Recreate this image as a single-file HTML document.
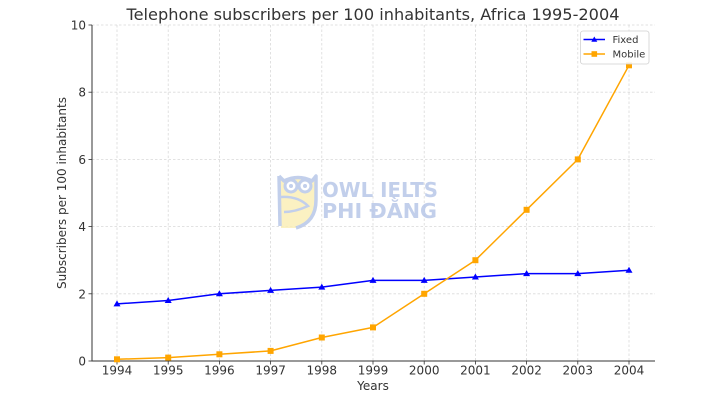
<!DOCTYPE html>
<html><head><meta charset="utf-8"><style>
html,body{margin:0;padding:0;background:#fff;}
svg{display:block;font-family:"DejaVu Sans","Liberation Sans",sans-serif;}
</style></head><body>
<svg width="711" height="400" viewBox="0 0 711 400" xmlns="http://www.w3.org/2000/svg">
<rect width="711" height="400" fill="#fff"/>
<!-- grid -->
<g stroke="#d9d9d9" stroke-width="0.8" stroke-dasharray="2.5,2">
<line x1="117" y1="25" x2="117" y2="361"/>
<line x1="168.2" y1="25" x2="168.2" y2="361"/>
<line x1="219.4" y1="25" x2="219.4" y2="361"/>
<line x1="270.6" y1="25" x2="270.6" y2="361"/>
<line x1="321.8" y1="25" x2="321.8" y2="361"/>
<line x1="373" y1="25" x2="373" y2="361"/>
<line x1="424.2" y1="25" x2="424.2" y2="361"/>
<line x1="475.4" y1="25" x2="475.4" y2="361"/>
<line x1="526.6" y1="25" x2="526.6" y2="361"/>
<line x1="577.8" y1="25" x2="577.8" y2="361"/>
<line x1="629" y1="25" x2="629" y2="361"/>
<line x1="92" y1="293.8" x2="655" y2="293.8"/>
<line x1="92" y1="226.6" x2="655" y2="226.6"/>
<line x1="92" y1="159.4" x2="655" y2="159.4"/>
<line x1="92" y1="92.2" x2="655" y2="92.2"/>
<line x1="92" y1="25" x2="655" y2="25"/>
</g>
<!-- watermark -->
<g opacity="0.85">
<path d="M279,176 L284,181 Q298,174 312,181 L316,176 L316,200 Q316,222 296,228 L281,228 L280,200 Z" fill="#fbefb8"/>
<path d="M279,176 L284,181 Q298,174 312,181 L316,176 L316,200 Q316,222 296,228 M279,176 L280,226" fill="none" stroke="#b8c7e8" stroke-width="3.5" stroke-linejoin="round"/>
<circle cx="291" cy="186" r="6" fill="#fff" stroke="#b8c7e8" stroke-width="3"/>
<circle cx="305" cy="186" r="6" fill="#fff" stroke="#b8c7e8" stroke-width="3"/>
<circle cx="291" cy="186" r="2" fill="#b8c7e8"/>
<circle cx="305" cy="186" r="2" fill="#b8c7e8"/>
<path d="M281,197 Q298,196 308,206 Q295,212 284,212" fill="none" stroke="#b8c7e8" stroke-width="2.5"/>
<text x="322" y="197" font-size="20" font-weight="bold" fill="#b8c7e8" textLength="116" lengthAdjust="spacingAndGlyphs">OWL IELTS</text>
<text x="322" y="218" font-size="20" font-weight="bold" fill="#b8c7e8" textLength="115" lengthAdjust="spacingAndGlyphs">PHI ĐẰNG</text>
</g>
<!-- spines -->
<line x1="92" y1="25" x2="92" y2="361.5" stroke="#333" stroke-width="1"/>
<line x1="91.5" y1="361" x2="655" y2="361" stroke="#333" stroke-width="1"/>
<!-- ticks -->
<g stroke="#333" stroke-width="0.8">
<line x1="117" y1="361" x2="117" y2="364.5"/>
<line x1="168.2" y1="361" x2="168.2" y2="364.5"/>
<line x1="219.4" y1="361" x2="219.4" y2="364.5"/>
<line x1="270.6" y1="361" x2="270.6" y2="364.5"/>
<line x1="321.8" y1="361" x2="321.8" y2="364.5"/>
<line x1="373" y1="361" x2="373" y2="364.5"/>
<line x1="424.2" y1="361" x2="424.2" y2="364.5"/>
<line x1="475.4" y1="361" x2="475.4" y2="364.5"/>
<line x1="526.6" y1="361" x2="526.6" y2="364.5"/>
<line x1="577.8" y1="361" x2="577.8" y2="364.5"/>
<line x1="629" y1="361" x2="629" y2="364.5"/>
<line x1="88.5" y1="361" x2="92" y2="361"/>
<line x1="88.5" y1="293.8" x2="92" y2="293.8"/>
<line x1="88.5" y1="226.6" x2="92" y2="226.6"/>
<line x1="88.5" y1="159.4" x2="92" y2="159.4"/>
<line x1="88.5" y1="92.2" x2="92" y2="92.2"/>
<line x1="88.5" y1="25" x2="92" y2="25"/>
</g>
<!-- tick labels -->
<g font-size="12" fill="#333" text-anchor="middle">
<text x="117" y="374.5">1994</text>
<text x="168.2" y="374.5">1995</text>
<text x="219.4" y="374.5">1996</text>
<text x="270.6" y="374.5">1997</text>
<text x="321.8" y="374.5">1998</text>
<text x="373" y="374.5">1999</text>
<text x="424.2" y="374.5">2000</text>
<text x="475.4" y="374.5">2001</text>
<text x="526.6" y="374.5">2002</text>
<text x="577.8" y="374.5">2003</text>
<text x="629" y="374.5">2004</text>
</g>
<g font-size="12" fill="#333" text-anchor="end">
<text x="86" y="365.5">0</text>
<text x="86" y="298.3">2</text>
<text x="86" y="231.1">4</text>
<text x="86" y="163.9">6</text>
<text x="86" y="96.7">8</text>
<text x="86" y="29.5">10</text>
</g>
<text x="373" y="390" font-size="12" fill="#333" text-anchor="middle">Years</text>
<text transform="translate(66,193) rotate(-90)" font-size="12" fill="#333" text-anchor="middle">Subscribers per 100 inhabitants</text>
<text x="373" y="20" font-size="16" fill="#333" text-anchor="middle" textLength="493" lengthAdjust="spacingAndGlyphs">Telephone subscribers per 100 inhabitants, Africa 1995-2004</text>
<!-- Fixed -->
<polyline fill="none" stroke="#0000ff" stroke-width="1.5" stroke-linejoin="round" points="117,303.9 168.2,300.5 219.4,293.8 270.6,290.4 321.8,287.1 373,280.4 424.2,280.4 475.4,277 526.6,273.6 577.8,273.6 629,270.3"/>
<g fill="#0000ff">
<path d="M117,300.4 L120.5,306.4 L113.5,306.4 Z"/>
<path d="M168.2,297 L171.7,303 L164.7,303 Z"/>
<path d="M219.4,290.3 L222.9,296.3 L215.9,296.3 Z"/>
<path d="M270.6,286.9 L274.1,292.9 L267.1,292.9 Z"/>
<path d="M321.8,283.6 L325.3,289.6 L318.3,289.6 Z"/>
<path d="M373,276.9 L376.5,282.9 L369.5,282.9 Z"/>
<path d="M424.2,276.9 L427.7,282.9 L420.7,282.9 Z"/>
<path d="M475.4,273.5 L478.9,279.5 L471.9,279.5 Z"/>
<path d="M526.6,270.1 L530.1,276.1 L523.1,276.1 Z"/>
<path d="M577.8,270.1 L581.3,276.1 L574.3,276.1 Z"/>
<path d="M629,266.8 L632.5,272.8 L625.5,272.8 Z"/>
</g>
<!-- Mobile -->
<polyline fill="none" stroke="#ffa500" stroke-width="1.5" stroke-linejoin="round" points="117,359.3 168.2,357.6 219.4,354.3 270.6,350.9 321.8,337.5 373,327.4 424.2,293.8 475.4,260.2 526.6,209.8 577.8,159.4 629,65.3"/>
<g fill="#ffa500">
<rect x="114" y="356.3" width="6" height="6"/>
<rect x="165.2" y="354.6" width="6" height="6"/>
<rect x="216.4" y="351.3" width="6" height="6"/>
<rect x="267.6" y="347.9" width="6" height="6"/>
<rect x="318.8" y="334.5" width="6" height="6"/>
<rect x="370" y="324.4" width="6" height="6"/>
<rect x="421.2" y="290.8" width="6" height="6"/>
<rect x="472.4" y="257.2" width="6" height="6"/>
<rect x="523.6" y="206.8" width="6" height="6"/>
<rect x="574.8" y="156.4" width="6" height="6"/>
<rect x="626" y="62.3" width="6" height="6"/>
</g>
<!-- legend -->
<rect x="580.5" y="31" width="68.5" height="33" rx="2.5" fill="#fff" fill-opacity="0.85" stroke="#d0d0d0" stroke-width="0.8"/>
<line x1="583.5" y1="39.5" x2="605" y2="39.5" stroke="#0000ff" stroke-width="1.5"/>
<path d="M594.3,36.5 L597.3,41.7 L591.3,41.7 Z" fill="#0000ff"/>
<line x1="583.5" y1="54" x2="605" y2="54" stroke="#ffa500" stroke-width="1.5"/>
<rect x="591.5" y="51.2" width="5.6" height="5.6" fill="#ffa500"/>
<text x="612.5" y="43" font-size="10" fill="#333">Fixed</text>
<text x="612.5" y="57.5" font-size="10" fill="#333">Mobile</text>
</svg>
</body></html>
